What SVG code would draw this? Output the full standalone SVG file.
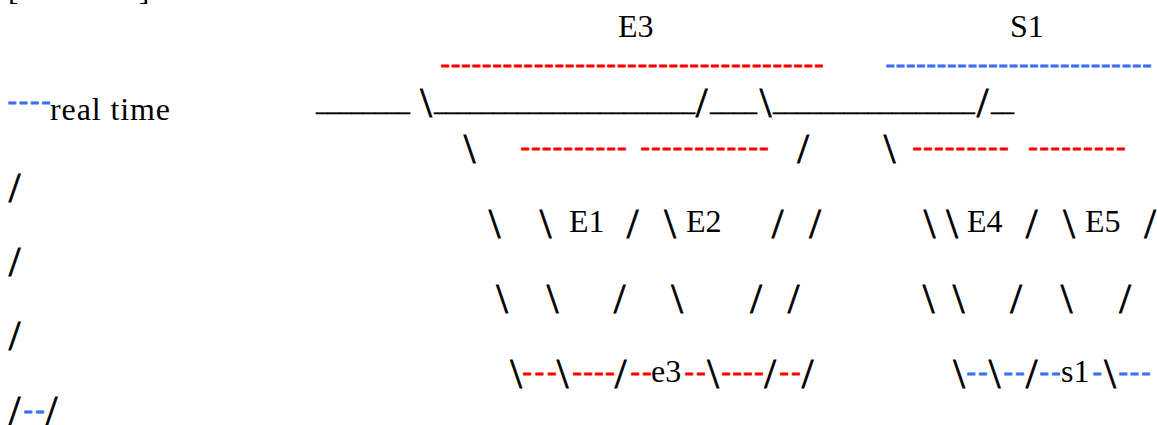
<svg xmlns="http://www.w3.org/2000/svg" width="1157" height="425" viewBox="0 0 1157 425">
<style>
text{font-family:"Liberation Serif","Times New Roman",serif;font-size:31px;fill:#000}
.sl{font-size:42px;text-anchor:middle;stroke:#000;stroke-width:0.8}
.r,.b{font-size:28px;stroke-width:0.8}
.r{fill:#FF0000;stroke:#FF0000}
.b{fill:#3D6FF5;stroke:#3D6FF5}
.lbl{font-size:32px}
.u{stroke:#000;stroke-width:0.4}
</style>
<rect width="1157" height="425" fill="#fff"/>
<g id="brackets">
<text x="8" y="0">[</text>
<text x="139" y="0">]</text>
</g>
<g id="labels">
<text class="lbl" x="618" y="37">E3</text>
<text class="lbl" x="1010" y="37">S1</text>
<text class="lbl" x="50" y="120" textLength="120">real time</text>
<text class="lbl" x="569" y="232">E1</text>
<text class="lbl" x="686" y="232">E2</text>
<text class="lbl" x="967" y="232">E4</text>
<text class="lbl" x="1085" y="232">E5</text>
<text class="lbl" x="651" y="382">e3</text>
<text class="lbl" x="1061" y="382">s1</text>
</g>
<g id="connectors">
<!-- row 2 dashes -->
<text class="r" x="440.5" y="71.5" textLength="383">-------------------------------------</text>
<text class="b" x="885.5" y="71.5" textLength="266">--------------------------</text>
<!-- row 3 -->
<text class="b" x="7.5" y="108.5" textLength="43">----</text>
<text class="u" x="316" y="110" textLength="94" lengthAdjust="spacingAndGlyphs">________</text>
<text class="sl" x="426" y="117">\</text>
<text class="u" x="434" y="110" textLength="261" lengthAdjust="spacingAndGlyphs">______________________</text>
<text class="sl" x="701.5" y="117">/</text>
<text class="u" x="710" y="110" textLength="47" lengthAdjust="spacingAndGlyphs">____</text>
<text class="sl" x="765.5" y="117">\</text>
<text class="u" x="773" y="110" textLength="202" lengthAdjust="spacingAndGlyphs">_________________</text>
<text class="sl" x="982.5" y="117">/</text>
<text class="u" x="991" y="110" textLength="23" lengthAdjust="spacingAndGlyphs">__</text>
<!-- row 4 -->
<text class="sl" x="469.5" y="163">\</text>
<text class="r" x="520.5" y="154.5" textLength="106">----------</text>
<text class="r" x="640.5" y="154.5" textLength="128">------------</text>
<text class="sl" x="803" y="163">/</text>
<text class="sl" x="889.5" y="163">\</text>
<text class="r" x="912.5" y="154.5" textLength="96">---------</text>
<text class="r" x="1028.5" y="154.5" textLength="97">---------</text>
<text class="sl" x="14.5" y="202">/</text>
<!-- row 5 -->
<text class="sl" x="494.5" y="238">\</text>
<text class="sl" x="545.5" y="238">\</text>
<text class="sl" x="632.5" y="238">/</text>
<text class="sl" x="670" y="238">\</text>
<text class="sl" x="777.5" y="238">/</text>
<text class="sl" x="815" y="238">/</text>
<text class="sl" x="929.5" y="238">\</text>
<text class="sl" x="952" y="238">\</text>
<text class="sl" x="1031.5" y="238">/</text>
<text class="sl" x="1069" y="238">\</text>
<text class="sl" x="1150" y="238">/</text>
<text class="sl" x="14.5" y="276">/</text>
<!-- row 6 -->
<text class="sl" x="502" y="313">\</text>
<text class="sl" x="552.5" y="313">\</text>
<text class="sl" x="619.5" y="313">/</text>
<text class="sl" x="677" y="313">\</text>
<text class="sl" x="756" y="313">/</text>
<text class="sl" x="793.5" y="313">/</text>
<text class="sl" x="928.5" y="313">\</text>
<text class="sl" x="958.5" y="313">\</text>
<text class="sl" x="1016" y="313">/</text>
<text class="sl" x="1066.5" y="313">\</text>
<text class="sl" x="1125" y="313">/</text>
<text class="sl" x="14.5" y="350">/</text>
<!-- row 7 -->
<text class="sl" x="516" y="388">\</text>
<text class="r" x="522.5" y="379.5" textLength="34">---</text>
<text class="sl" x="562.5" y="388">\</text>
<text class="r" x="572.5" y="379.5" textLength="42">----</text>
<text class="sl" x="620.5" y="388">/</text>
<text class="r" x="630.5" y="379.5" textLength="21">--</text>
<text class="r" x="684.5" y="379.5" textLength="21">--</text>
<text class="sl" x="713" y="388">\</text>
<text class="r" x="721.5" y="379.5" textLength="42">----</text>
<text class="sl" x="770" y="388">/</text>
<text class="r" x="779.5" y="379.5" textLength="21">--</text>
<text class="sl" x="807.5" y="388">/</text>
<text class="sl" x="959" y="388">\</text>
<text class="b" x="966.5" y="379.5" textLength="21">--</text>
<text class="sl" x="994.5" y="388">\</text>
<text class="b" x="1003.5" y="379.5" textLength="21">--</text>
<text class="sl" x="1031.5" y="388">/</text>
<text class="b" x="1039.5" y="379.5" textLength="21">--</text>
<text class="b" x="1092.5" y="379.5" textLength="11">-</text>
<text class="sl" x="1110" y="388">\</text>
<text class="b" x="1118.5" y="379.5" textLength="32">---</text>
<!-- row 8 -->
<text class="sl" x="14.5" y="425">/</text>
<text class="b" x="23.5" y="417.5" textLength="21">--</text>
<text class="sl" x="51.5" y="425">/</text>
</g>
</svg>
